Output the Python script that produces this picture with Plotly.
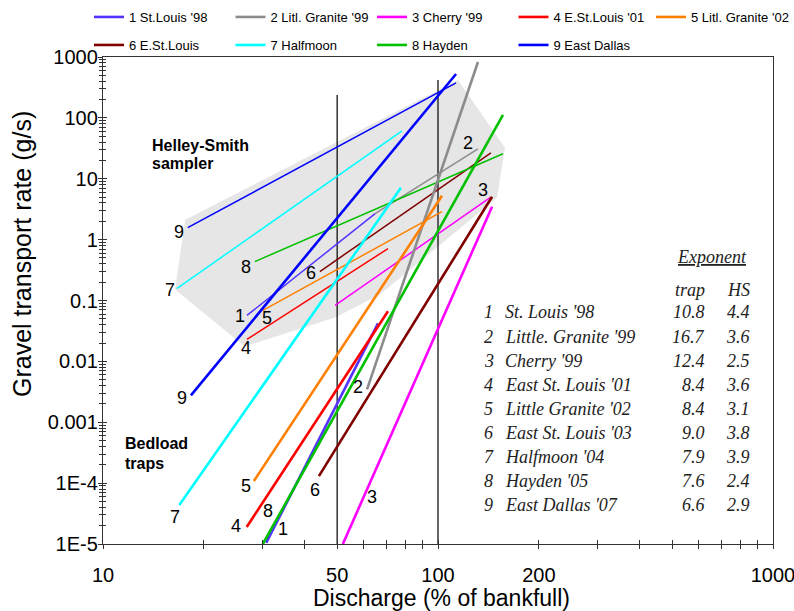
import numpy as np
import plotly.graph_objects as go

# ---------------- data ----------------
sites = ["1 St.Louis '98", "2 Litl. Granite '99", "3 Cherry '99", "4 E.St.Louis '01",
         "5 Litl. Granite '02", "6 E.St.Louis", "7 Halfmoon", "8 Hayden", "9 East Dallas"]
site_num = ["1", "2", "3", "4", "5", "6", "7", "8", "9"]
colors = ["#5533ff", "#8c8c8c", "#ff00ff", "#ff0000", "#ff8000",
          "#800000", "#00ffff", "#00c000", "#0000ff"]

# bedload trap rating curves (start / end points, % bankfull, g/s)
trap_x0 = [30.7, 61.4, 52.0, 26.85, 28.2, 44.1, 16.9, 30.0, 18.3]
trap_y0 = [1.04e-5, 0.00347, 1.0e-5, 1.9e-5, 1.08e-4, 1.30e-4, 4.36e-5, 1.0e-5, 0.00277]
trap_x1 = [66.2, 131.6, 145.0, 70.9, 102.8, 145.0, 77.5, 156.3, 113.2]
trap_y1 = [0.042, 828.0, 3.47, 0.0668, 5.26, 5.07, 7.12, 112.0, 526.0]

# Helley-Smith rating curves
hs_x0 = [26.9, 64.9, 49.3, 26.9, 30.0, 44.4, 16.6, 28.4, 17.9]
hs_y0 = [0.0568, 2.67, 0.0828, 0.0230, 0.0686, 0.299, 0.157, 0.436, 1.57]
hs_x1 = [64.9, 131.6, 143.0, 70.9, 102.8, 143.9, 78.1, 156.3, 113.2]
hs_y1 = [2.67, 31.0, 4.88, 0.711, 2.88, 26.7, 61.2, 25.7, 375.0]

# grey envelope around the Helley-Smith curves
hull_x = [17.6, 16.4, 26.5, 49.3, 67.1, 150.0, 158.5, 114.7, 17.6]
hull_y = [2.13, 0.151, 0.0176, 0.0526, 0.125, 4.88, 32.2, 420.0, 2.13]

# reference verticals at 50 % and 100 % of bankfull
ref_x = [50, 100]
ref_top = [238.0, 420.0]
ref_bottom = [1e-5, 1e-5]

# curve number labels
hs_lab_x = [25.6, 122.9, 136.3, 26.7, 30.9, 41.8, 15.85, 26.7, 16.9]
hs_lab_y = [0.0547, 38.9, 6.61, 0.0163, 0.0507, 0.288, 0.151, 0.36, 1.35]
trap_lab_x = [34.5, 57.7, 63.5, 24.9, 26.7, 42.9, 16.4, 31.1, 17.2]
trap_lab_y = [1.76e-5, 0.00375, 5.89e-5, 1.97e-5, 8.93e-5, 7.67e-5, 2.77e-5, 3.47e-5, 0.00247]

# exponent table
table_names = ["St. Louis '98", "Little. Granite '99", "Cherry '99", "East St. Louis '01",
               "Little Granite '02", "East St. Louis '03", "Halfmoon '04", "Hayden '05",
               "East Dallas '07"]
trap_exp = ["10.8", "16.7", "12.4", "8.4", "8.4", "9.0", "7.9", "7.6", "6.6"]
hs_exp = ["4.4", "3.6", "2.5", "3.6", "3.1", "3.8", "3.9", "2.4", "2.9"]

# axis ticks
x_tickvals = [10, 20, 30, 40, 50, 60, 70, 80, 90, 100, 200, 300, 400, 500, 600, 700, 800, 900, 1000]
x_ticktext = ["10", "", "", "", "50", "", "", "", "", "100", "200", "", "", "", "", "", "", "", "1000"]
y_tickvals = [1e-5, 1e-4, 1e-3, 1e-2, 0.1, 1, 10, 100, 1000]
y_ticktext = ["1E-5", "1E-4", "0.001", "0.01", "0.1", "1", "10", "100", "1000"]

# ---------------- figure ----------------
OFF = 0                      # body margin removed by post_script
W, H = 794, 611
L, R, T = 103, 21, 57
PW, PH = 670, 487
B = H - T - PH
SANS = "Liberation Sans, Arial, sans-serif"
SERIF = "Liberation Serif, Times New Roman, serif"


def px(xp):   # page pixel -> paper x
    return (xp - OFF - L) / PW


def py(yp):   # page pixel -> paper y
    return (T + PH - (yp - OFF)) / PH


legend_of = ["legend", "legend", "legend", "legend", "legend3",
             "legend2", "legend2", "legend2", "legend2"]

fig = go.Figure()

fig.add_trace(go.Scatter(x=hull_x, y=hull_y, mode="lines", fill="toself",
                         fillcolor="#e6e6e6", line=dict(width=0, color="#e6e6e6"),
                         hoverinfo="skip", showlegend=False))

for i in range(len(ref_x)):
    fig.add_trace(go.Scatter(x=[ref_x[i], ref_x[i]], y=[ref_bottom[i], ref_top[i]],
                             mode="lines", line=dict(color="black", width=1.2),
                             showlegend=False, hoverinfo="skip",
                             xaxis="x2", yaxis="y2"))

for i in range(9):
    fig.add_trace(go.Scatter(x=[hs_x0[i], hs_x1[i]], y=[hs_y0[i], hs_y1[i]], mode="lines",
                             line=dict(color=colors[i], width=1.5), showlegend=False,
                             legendgroup=site_num[i], xaxis="x2", yaxis="y2"))
for i in range(9):
    fig.add_trace(go.Scatter(x=[trap_x0[i], trap_x1[i]], y=[trap_y0[i], trap_y1[i]], mode="lines",
                             line=dict(color=colors[i], width=2.6), name=sites[i],
                             legendgroup=site_num[i], legend=legend_of[i],
                             xaxis="x2", yaxis="y2"))

ann = []
for i in range(9):
    ann.append(dict(x=np.log10(hs_lab_x[i]), y=np.log10(hs_lab_y[i]), xref="x", yref="y",
                    text=site_num[i], showarrow=False, font=dict(size=18, family=SANS, color="black")))
    ann.append(dict(x=np.log10(trap_lab_x[i]), y=np.log10(trap_lab_y[i]), xref="x", yref="y",
                    text=site_num[i], showarrow=False, font=dict(size=18, family=SANS, color="black")))

bold = dict(size=16, family=SANS, color="black")
for txt, xp, yp in [("<b>Helley-Smith</b>", 150, 145), ("<b>sampler</b>", 150, 163),
                    ("<b>Bedload</b>", 123, 443), ("<b>traps</b>", 123, 463)]:
    ann.append(dict(x=px(xp), y=py(yp), xref="paper", yref="paper", text=txt, showarrow=False,
                    xanchor="left", yanchor="middle", font=bold))

tfont = dict(size=18, family=SERIF, color="#222")
ann.append(dict(x=px(712), y=py(257), xref="paper", yref="paper", text="<i><u>Exponent</u></i>",
                showarrow=False, xanchor="center", yanchor="middle", font=tfont))
ann.append(dict(x=px(707), y=py(290), xref="paper", yref="paper", text="<i>trap</i>",
                showarrow=False, xanchor="right", yanchor="middle", font=tfont))
ann.append(dict(x=px(752), y=py(290), xref="paper", yref="paper", text="<i>HS</i>",
                showarrow=False, xanchor="right", yanchor="middle", font=tfont))
row_y = [311.7, 337, 360.7, 385, 409, 432.7, 457.3, 480.7, 505]
for i in range(9):
    yy = py(row_y[i])
    ann.append(dict(x=px(482), y=yy, xref="paper", yref="paper", text="<i>" + site_num[i] + "</i>",
                    showarrow=False, xanchor="left", yanchor="middle", font=tfont))
    ann.append(dict(x=px(503), y=yy, xref="paper", yref="paper", text="<i>" + table_names[i] + "</i>",
                    showarrow=False, xanchor="left", yanchor="middle", font=tfont))
    ann.append(dict(x=px(707), y=yy, xref="paper", yref="paper", text="<i>" + trap_exp[i] + "</i>",
                    showarrow=False, xanchor="right", yanchor="middle", font=tfont))
    ann.append(dict(x=px(752), y=yy, xref="paper", yref="paper", text="<i>" + hs_exp[i] + "</i>",
                    showarrow=False, xanchor="right", yanchor="middle", font=tfont))

# axis titles
ann.append(dict(x=px(441), y=py(598), xref="paper", yref="paper", text="Discharge (% of bankfull)",
                showarrow=False, xanchor="center", yanchor="middle",
                font=dict(size=23, family=SANS, color="black")))
ann.append(dict(x=px(22), y=py(254), xref="paper", yref="paper", text="Gravel transport rate (g/s)",
                showarrow=False, xanchor="center", yanchor="middle", textangle=-90,
                font=dict(size=25, family=SANS, color="black")))

y_minor = [m * 10.0 ** e for e in range(-5, 3) for m in range(2, 10)]

common_x = dict(type="log", range=[1, 3], tickmode="array", tickvals=x_tickvals,
                showgrid=False, zeroline=False, fixedrange=True)
common_y = dict(type="log", range=[-5, 3], tickmode="array", tickvals=y_tickvals,
                showgrid=False, zeroline=False, fixedrange=True)

leg_common = dict(orientation="h", xanchor="left", yanchor="middle",
                  entrywidthmode="pixels", bgcolor="rgba(0,0,0,0)",
                  font=dict(size=13, family=SANS, color="black"), itemwidth=30)

fig.update_layout(
    width=W, height=H, margin=dict(l=L, r=R, t=T, b=B, autoexpand=False),
    paper_bgcolor="white", plot_bgcolor="white",
    xaxis=dict(**common_x, ticktext=x_ticktext, ticks="inside", ticklen=4, tickcolor="#333",
               showline=True, linecolor="#333", linewidth=1.3, mirror=True,
               ticklabeloverflow="allow",
               tickfont=dict(size=20, family=SANS, color="black"), ticklabelstandoff=13),
    yaxis=dict(**common_y, ticktext=y_ticktext, ticks="inside", ticklen=4, tickcolor="#333",
               showline=True, linecolor="#333", linewidth=1.3, mirror=True,
               ticklabeloverflow="allow",
               minor=dict(tickmode="array", tickvals=y_minor, ticks="inside", ticklen=3, tickcolor="#333"),
               tickfont=dict(size=20, family=SANS, color="black"), ticklabelstandoff=0),
    xaxis2=dict(**common_x, overlaying="x", anchor="y2", side="bottom", ticks="outside", ticklen=4,
                tickcolor="#333", showticklabels=False, showline=False),
    yaxis2=dict(**common_y, overlaying="y", anchor="x2", side="left", ticks="outside", ticklen=4,
                tickcolor="#333", showticklabels=False, showline=False,
                minor=dict(tickmode="array", tickvals=y_minor, ticks="outside", ticklen=3, tickcolor="#333")),
    legend=dict(**leg_common, x=px(89), y=py(17), entrywidth=96.5),
    legend2=dict(**leg_common, x=px(89), y=py(45), entrywidth=96.5),
    legend3=dict(**leg_common, x=px(89 + 4 * 140.5), y=py(17)),
    annotations=ann,
    showlegend=True,
)

fig.write_html(
    "out.html",
    config={"displayModeBar": False},
    post_script="document.documentElement.style.margin='0';document.body.style.margin='0';"
                "document.documentElement.style.overflow='hidden';document.body.style.overflow='hidden';",
)
